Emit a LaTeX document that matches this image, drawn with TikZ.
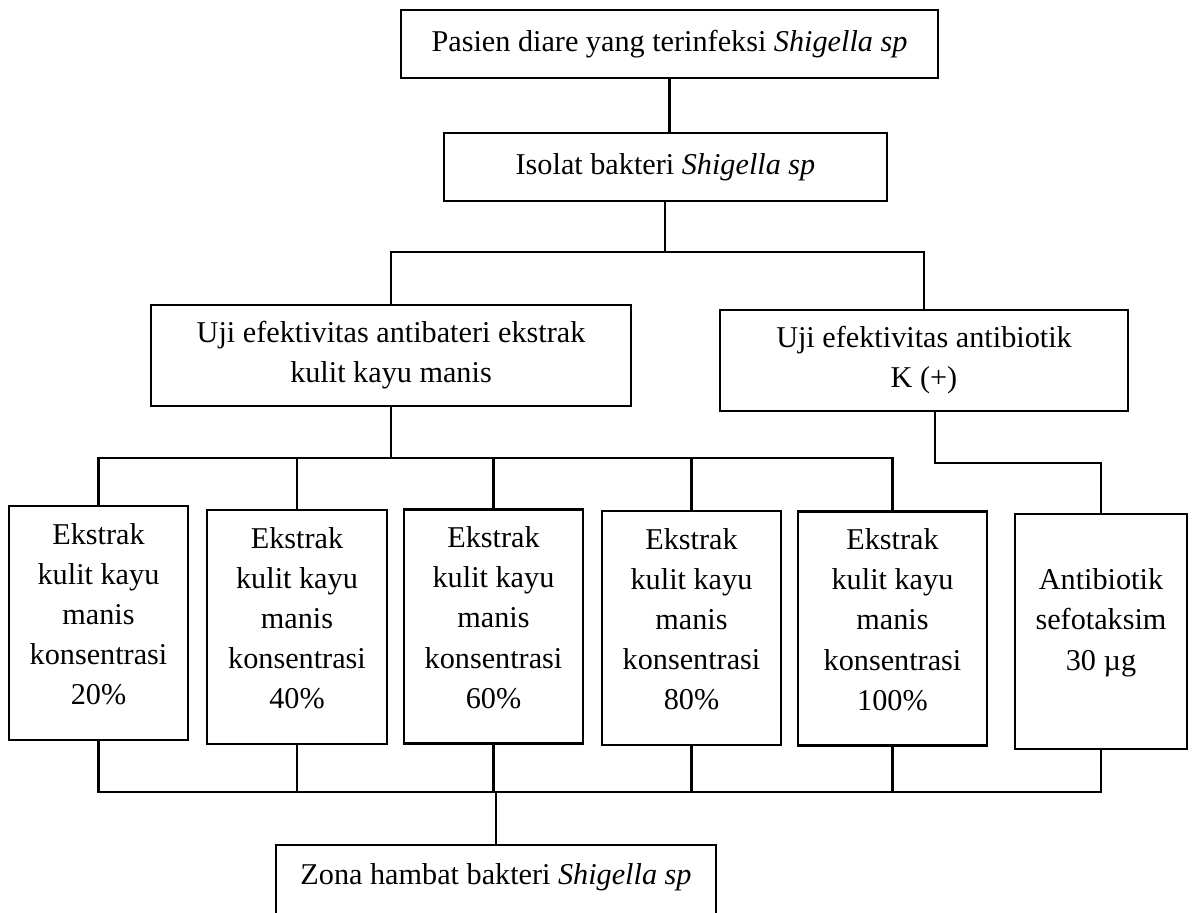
\documentclass[tikz,border=0pt]{standalone}
\usepackage{fontspec}
\setmainfont{Liberation Serif}

\begin{document}
\begin{tikzpicture}[line width=0.6pt,
    box/.style={draw, align=center, inner sep=0pt,
      font=\fontsize{8.6pt}{11.4pt}\selectfont},
    ekbox/.style={box, minimum height=2.34cm}]
  \useasboundingbox (0, 0) rectangle (11.94, -9.13);
  \clip (0, 0) rectangle (11.94, -9.13);

  % Sample
  \node[box, minimum width=5.37cm, minimum height=0.68cm] (pasien) at (6.695, -0.44)
    {Pasien diare yang terinfeksi \textit{Shigella sp}};
  \node[box, minimum width=4.43cm, minimum height=0.68cm] (isolat) at (6.655, -1.67)
    {Isolat bakteri \textit{Shigella sp}};

  % Tests
  \node[box, minimum width=4.80cm, minimum height=1.01cm] (ujiext) at (3.91, -3.555)
    {Uji efektivitas antibateri ekstrak\\kulit kayu manis};
  \node[box, minimum width=4.08cm, minimum height=1.01cm] (ujiab) at (9.24, -3.605)
    {Uji efektivitas antibiotik\\K (+)};

  % Concentrations
  \node[ekbox, minimum width=1.79cm] (e20) at (0.985, -6.23)
    {Ekstrak\\kulit kayu\\manis\\konsentrasi\\20\%\\[-0.22cm]};
  \node[ekbox, minimum width=1.80cm] (e40) at (2.97, -6.27)
    {Ekstrak\\kulit kayu\\manis\\konsentrasi\\40\%\\[-0.22cm]};
  \node[ekbox, minimum width=1.79cm] (e60) at (4.935, -6.265)
    {Ekstrak\\kulit kayu\\manis\\konsentrasi\\60\%\\[-0.22cm]};
  \node[ekbox, minimum width=1.79cm] (e80) at (6.915, -6.28)
    {Ekstrak\\kulit kayu\\manis\\konsentrasi\\80\%\\[-0.22cm]};
  \node[ekbox, minimum width=1.89cm] (e100) at (8.925, -6.285)
    {Ekstrak\\kulit kayu\\manis\\konsentrasi\\100\%\\[-0.22cm]};
  \node[ekbox, minimum width=1.72cm, minimum height=2.35cm] (ab) at (11.01, -6.315)
    {Antibiotik\\sefotaksim\\30 µg\\[-0.16cm]};

  % Result
  \node[box, minimum width=4.40cm, anchor=north, inner ysep=0.18cm, text depth=0.8cm]
    (zona) at (4.96, -8.44) {Zona hambat bakteri \textit{Shigella sp}};

  % Lines
  \draw (pasien.south) -- (pasien.south |- isolat.north);
  \coordinate (split) at (6.65, -2.52);
  \draw (isolat.south -| split) -- (split);
  \draw (ujiext.north) |- (split) -| (ujiab.north);

  \coordinate (bus1) at (0, -4.58);
  \draw (ujiext.south) -- (ujiext.south |- bus1);
  \draw (e20.north) |- (bus1 -| e100.north) -- (e100.north);
  \foreach \n in {e40, e60, e80} \draw (\n.north) -- (\n.north |- bus1);

  \coordinate (abturn) at (9.35, -4.63);
  \draw (ujiab.south -| abturn) -- (abturn) -| (ab.north);

  \coordinate (bus2) at (0, -7.92);
  \draw (e20.south) |- (bus2 -| ab.south) -- (ab.south);
  \foreach \n in {e40, e60, e80, e100} \draw (\n.south) -- (\n.south |- bus2);
  \draw (zona.north |- bus2) -- (zona.north);
\end{tikzpicture}
\end{document}
